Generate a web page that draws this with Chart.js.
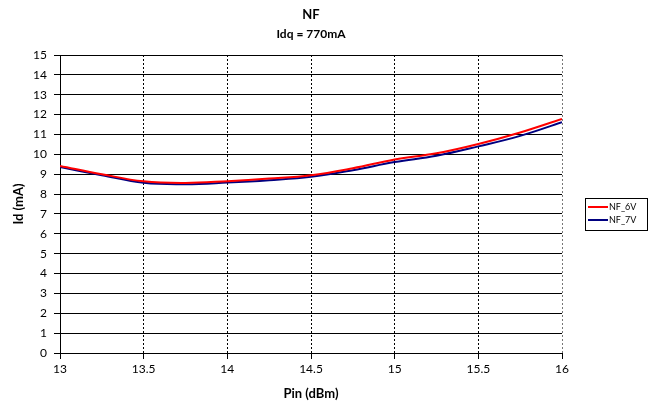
<!DOCTYPE html>
<html lang="en">
  <head>
    <meta charset="UTF-8" />
    <title>NF</title>
    <script src="https://cdn.jsdelivr.net/npm/chart.js@4.4.1/dist/chart.umd.min.js"></script>
    <style>
      html, body {
        margin: 0;
        padding: 0;
        background: #fff;
      }
      #wrap {
        width: 650px;
        height: 408px;
      }
    </style>
  </head>
  <body>
    <div id="wrap">
      <canvas id="nfChart" width="650" height="408"></canvas>
    </div>

    <script>
      // Pin (dBm) sample points
      const pin = [13, 13.25, 13.5, 13.75, 14, 14.25, 14.5, 14.75, 15, 15.25, 15.5, 15.75, 16];
      // values
      const nf6V = [9.42, 9.0, 8.64, 8.56, 8.65, 8.78, 8.95, 9.3, 9.74, 10.05, 10.52, 11.1, 11.78];
      const nf7V = [9.36, 8.95, 8.57, 8.5, 8.58, 8.7, 8.87, 9.2, 9.61, 9.93, 10.4, 10.93, 11.62];
      const seriesNames = ['NF_6V', 'NF_7V'];
      const seriesColors = ['#ff0000', '#000080'];

      const FONT = 'Lato, "DejaVu Sans", sans-serif';
      const toPoints = (ys) => pin.map((x, i) => ({ x: x, y: ys[i] }));

      // small boxed legend like the original (drawn by hand, chart.js has no legend border)
      const boxedLegend = {
        id: 'boxedLegend',
        afterDraw(chart) {
          const ctx = chart.ctx;
          const left = 585, top = 198, w = 62, rowH = 13;
          const sets = chart.data.datasets;
          ctx.save();
          ctx.strokeStyle = '#000';
          ctx.lineWidth = 1;
          ctx.strokeRect(left + 0.5, top + 0.5, w, sets.length * rowH + 6);
          ctx.font = '9px ' + FONT;
          ctx.textBaseline = 'middle';
          ctx.fillStyle = '#000';
          sets.forEach((ds, i) => {
            const y = top + 9 + i * rowH;
            ctx.strokeStyle = ds.borderColor;
            ctx.lineWidth = 2;
            ctx.beginPath();
            ctx.moveTo(left + 3, y);
            ctx.lineTo(left + 23, y);
            ctx.stroke();
            ctx.fillText(ds.label, left + 24, y + 0.5);
          });
          ctx.restore();
        },
      };

      const ctx = document.getElementById('nfChart').getContext('2d');
      new Chart(ctx, {
        type: 'line',
        data: {
          datasets: [
            {
              label: seriesNames[0],
              data: toPoints(nf6V),
              borderColor: seriesColors[0],
              borderWidth: 2,
              pointRadius: 0,
              tension: 0.4,
              fill: false,
            },
            {
              label: seriesNames[1],
              data: toPoints(nf7V),
              borderColor: seriesColors[1],
              borderWidth: 2,
              pointRadius: 0,
              tension: 0.4,
              fill: false,
            },
          ],
        },
        options: {
          responsive: false,
          animation: false,
          layout: {
            padding: { top: 0, right: 88, bottom: 0, left: 0 },
          },
          plugins: {
            legend: { display: false },
            tooltip: { enabled: false },
            title: {
              display: true,
              text: 'NF',
              fullSize: false,
              color: '#000',
              font: { family: FONT, size: 13, weight: 'bold' },
              padding: { top: 7, bottom: 1 },
            },
            subtitle: {
              display: true,
              text: 'Idq = 770mA',
              fullSize: false,
              color: '#000',
              font: { family: FONT, size: 12, weight: 'bold' },
              padding: { top: 3, bottom: 14 },
            },
          },
          scales: {
            x: {
              type: 'linear',
              min: 13,
              max: 16,
              afterFit: (s) => { s.height = 55; },
              ticks: {
                stepSize: 0.5,
                color: '#000',
                padding: 3,
                maxRotation: 0,
                callback: (v) => String(v),
                font: { family: FONT, size: 12 },
              },
              grid: {
                color: (c) => (c.tick && c.tick.value === 16 ? '#777' : '#000'),
                lineWidth: 1,
                tickLength: 6,
                tickColor: '#000',
              },
              border: { display: true, color: '#000', width: 1, dash: [2, 2] },
              title: {
                display: true,
                text: 'Pin (dBm)',
                color: '#000',
                font: { family: FONT, size: 13, weight: 'bold' },
                padding: { top: 0, bottom: 6 },
              },
            },
            y: {
              min: 0,
              max: 15,
              afterFit: (s) => { s.width = 60; },
              ticks: {
                stepSize: 1,
                color: '#000',
                padding: 7,
                font: { family: FONT, size: 12 },
              },
              grid: {
                color: '#000',
                lineWidth: 1,
                tickLength: 6,
                tickColor: '#000',
              },
              border: { display: true, color: '#000', width: 1 },
              title: {
                display: true,
                text: 'Id (mA)',
                color: '#000',
                font: { family: FONT, size: 13, weight: 'bold' },
                padding: { top: 11, bottom: 4 },
              },
            },
          },
        },
        plugins: [boxedLegend],
      });
    </script>
  </body>
</html>
